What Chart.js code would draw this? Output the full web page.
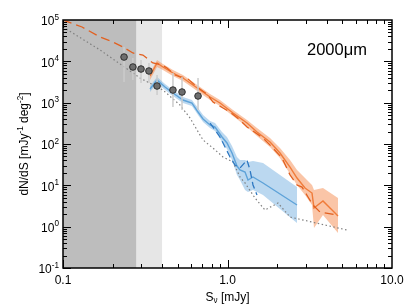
<!DOCTYPE html>
<html>
<head>
<meta charset="utf-8">
<script src="https://cdn.jsdelivr.net/npm/chart.js@4.4.0/dist/chart.umd.min.js"></script>
<style>
html, body { margin: 0; padding: 0; background: #fff; }
</style>
</head>
<body>
<canvas id="countsChart" width="411" height="308"></canvas>
<script>
// flux density [mJy] and dN/dS values
const orangeS = [0.338, 0.373, 0.405, 0.466, 0.536, 0.617, 0.783, 0.900, 1.080, 1.314, 1.511, 1.813, 2.085, 2.399, 2.646, 2.959, 3.264, 3.356, 3.806, 4.697];
const orangeN = [4420, 9110, 7290, 5220, 3950, 2680, 1370, 981, 562, 322, 195, 112, 60.5, 27.7, 15.0, 8.61, 6.51, 2.82, 4.17, 1.81];
const orangeHi = [5220, 10800, 8620, 6170, 4670, 3160, 1620, 1160, 664, 380, 244, 140, 79.9, 40.9, 23.5, 15.0, 10.2, 7.70, 8.61, 4.93];
const orangeLo = [3530, 7290, 6170, 4420, 3340, 2260, 1160, 830, 475, 258, 156, 84.5, 45.8, 18.8, 10.2, 5.83, 3.34, 0.926, 1.91, 0.701];

const blueS = [0.338, 0.373, 0.417, 0.466, 0.536, 0.608, 0.662, 0.710, 0.783, 0.840, 0.926, 0.993, 1.065, 1.142, 1.191, 1.278, 1.332, 1.429, 1.644, 2.646];
const blueN = [2140, 3530, 2390, 1710, 1160, 981, 594, 402, 288, 258, 148, 106, 60.5, 29.3, 23.5, 21.0, 13.4, 15.9, 11.4, 3.34];
const blueHi = [2530, 4180, 2830, 2020, 1370, 1160, 742, 503, 360, 322, 195, 148, 89.3, 48.4, 40.9, 40.9, 36.6, 38.7, 34.7, 9.10];
const blueLo = [1810, 2990, 2020, 1450, 981, 830, 503, 340, 244, 206, 112, 75.6, 40.9, 17.8, 13.4, 7.70, 6.88, 7.70, 5.83, 1.22];

const blueDashS = [0.783, 0.840, 0.900, 0.966, 1.036, 1.111, 1.191, 1.314, 1.370, 1.429, 1.511];
const blueDashN = [322, 218, 148, 84.5, 48.4, 31.0, 26.2, 40.9, 23.5, 10.2, 5.83];

const orangeDashS = [0.100, 0.1305, 0.168, 0.201, 0.232, 0.266, 0.306, 0.352, 0.400, 0.429, 0.480, 0.514, 0.567, 0.653, 0.751, 0.816, 0.939, 1.036, 1.191, 1.314, 1.644, 1.864, 2.145, 2.399, 2.646, 2.838, 3.086, 3.310, 3.650, 4.632];
const orangeDashN = [100000, 67700, 38800, 29400, 22200, 15900, 14200, 9110, 8150, 6900, 4670, 4180, 3950, 2390, 1620, 1037, 742, 594, 380, 258, 140, 84.5, 45.8, 17.8, 10.2, 9.10, 5.21, 3.34, 2.26, 1.91];

const dotS = [0.100, 0.168, 0.294, 0.405, 0.514, 0.592, 0.653, 0.710, 0.816, 0.939, 1.080, 1.191, 1.278, 1.470, 1.690, 2.028, 2.399, 5.326];
const dotN = [67700, 18800, 3950, 2020, 878, 425, 218, 125, 79.9, 48.4, 36.6, 15.9, 11.4, 4.93, 2.53, 3.73, 1.71, 0.829];

const obsS = [0.235, 0.266, 0.298, 0.333, 0.373, 0.466, 0.529, 0.662];
const obsN = [12700, 7290, 6520, 5840, 2530, 2020, 1810, 1450];
const obsHi = [22200, 12000, 10800, 9110, 4670, 5220, 4180, 3950];
const obsLo = [3160, 3530, 2990, 2990, 1530, 785, 664, 664];

const darkMask = [0.1, 0.28];
const lightMask = [0.28, 0.40];

const xTickVals = [0.1, 1, 10];
const xTickLabels = ['0.1', '1.0', '10.0'];
const yTickVals = [0.1, 1, 10, 100, 1000, 10000, 100000];
const yTickExps = ['-1', '0', '1', '2', '3', '4', '5'];
const bandLabel = '2000\u03bcm';

const pts = (xs, ys) => xs.map((x, i) => ({ x: x, y: ys[i] }));

const errPts = [];
obsS.forEach((s, i) => {
    errPts.push({ x: s, y: obsLo[i] }, { x: s, y: obsHi[i] }, { x: s, y: null });
});

const FONT = '"Liberation Sans", Arial, Helvetica, sans-serif';

// draws a string made of normal / superscript / subscript pieces, left to right
function drawRich(ctx, parts, x, y, size) {
    let cx = x;
    parts.forEach(p => {
        const s = p[1] ? size * 0.68 : size;
        ctx.font = s + 'px ' + FONT;
        const dy = p[1] === 1 ? -size * 0.38 : (p[1] === -1 ? size * 0.22 : 0);
        ctx.fillText(p[0], cx, y + dy);
        cx += ctx.measureText(p[0]).width;
    });
}
function richWidth(ctx, parts, size) {
    let w = 0;
    parts.forEach(p => {
        ctx.font = (p[1] ? size * 0.68 : size) + 'px ' + FONT;
        w += ctx.measureText(p[0]).width;
    });
    return w;
}

const axesPlugin = {
    id: 'axes',
    beforeDatasetsDraw(chart) {
        const { ctx, chartArea: a, scales: { x } } = chart;
        ctx.save();
        let x0 = x.getPixelForValue(darkMask[0]), x1 = x.getPixelForValue(darkMask[1]);
        ctx.fillStyle = '#bdbdbd';
        ctx.fillRect(x0, a.top, x1 - x0, a.bottom - a.top);
        x0 = x.getPixelForValue(lightMask[0]); x1 = x.getPixelForValue(lightMask[1]);
        ctx.fillStyle = '#e6e6e6';
        ctx.fillRect(x0, a.top, x1 - x0, a.bottom - a.top);
        ctx.restore();
    },
    afterDraw(chart) {
        const { ctx, chartArea: a, scales: { x, y } } = chart;
        ctx.save();
        ctx.strokeStyle = '#000';
        ctx.lineWidth = 1;
        ctx.beginPath();
        // x ticks, bottom and top
        for (let e = -1; e < 1; e++) {
            for (let m = 1; m <= 9; m++) {
                const px = Math.round(x.getPixelForValue(m * Math.pow(10, e))) + 0.5;
                const len = m === 1 ? 8 : 4;
                ctx.moveTo(px, a.bottom); ctx.lineTo(px, a.bottom - len);
                ctx.moveTo(px, a.top); ctx.lineTo(px, a.top + len);
            }
        }
        // y ticks, left and right
        for (let e = -1; e < 5; e++) {
            for (let m = 1; m <= 9; m++) {
                const py = Math.round(y.getPixelForValue(m * Math.pow(10, e))) + 0.5;
                const len = m === 1 ? 8 : 4;
                ctx.moveTo(a.left, py); ctx.lineTo(a.left + len, py);
                ctx.moveTo(a.right, py); ctx.lineTo(a.right - len, py);
            }
        }
        ctx.stroke();

        ctx.lineWidth = 1.5;
        ctx.strokeRect(a.left, a.top, a.right - a.left, a.bottom - a.top);

        ctx.fillStyle = '#000';
        // x tick labels
        ctx.font = '12px ' + FONT;
        ctx.textAlign = 'center';
        ctx.textBaseline = 'middle';
        xTickVals.forEach((v, i) => {
            ctx.fillText(xTickLabels[i], x.getPixelForValue(v), a.bottom + 13);
        });
        // y tick labels with exponent
        ctx.textAlign = 'left';
        yTickVals.forEach((v, i) => {
            const parts = [['10', 0], [yTickExps[i], 1]];
            const w = richWidth(ctx, parts, 12);
            drawRich(ctx, parts, a.left - 4 - w, y.getPixelForValue(v) + 2, 12);
        });
        // x title
        const xt = [['S', 0], ['\u03bd', -1], [' [mJy]', 0]];
        const xw = richWidth(ctx, xt, 12);
        drawRich(ctx, xt, (a.left + a.right) / 2 - xw / 2, a.bottom + 30, 12);
        // y title
        const yt = [['dN/dS [mJy', 0], ['-1', 1], [' deg', 0], ['-2', 1], [']', 0]];
        const yw = richWidth(ctx, yt, 12);
        ctx.save();
        ctx.translate(25, (a.top + a.bottom) / 2);
        ctx.rotate(-Math.PI / 2);
        drawRich(ctx, yt, -yw / 2, 0, 12);
        ctx.restore();
        // wavelength label
        ctx.font = '16.5px ' + FONT;
        ctx.textBaseline = 'alphabetic';
        ctx.fillText(bandLabel, 307, 55);
        ctx.restore();
    }
};

new Chart(document.getElementById('countsChart').getContext('2d'), {
    type: 'line',
    data: {
        datasets: [
            {
                data: pts(obsS, obsN),
                showLine: false,
                pointRadius: 3.3,
                pointBackgroundColor: '#6e6e6e',
                pointBorderColor: '#2e2e2e',
                pointBorderWidth: 1
            },
            {
                data: errPts,
                borderColor: '#cccccc',
                borderWidth: 1.5,
                spanGaps: false,
                pointRadius: 0
            },
            {
                data: pts(orangeDashS, orangeDashN),
                borderColor: '#e2601f',
                borderWidth: 1.3,
                borderDash: [9, 5],
                pointRadius: 0
            },
            {
                data: pts(blueDashS, blueDashN),
                borderColor: '#2d78c2',
                borderWidth: 1.3,
                borderDash: [7, 4],
                pointRadius: 0
            },
            {
                data: pts(orangeS, orangeN),
                borderColor: '#f07c3a',
                borderWidth: 1.4,
                pointRadius: 0
            },
            {
                data: pts(blueS, blueN),
                borderColor: '#5ea3d9',
                borderWidth: 1.4,
                pointRadius: 0
            },
            {
                data: pts(dotS, dotN),
                borderColor: '#808080',
                borderWidth: 1.2,
                borderDash: [1.5, 2.5],
                pointRadius: 0
            },
            {
                data: pts(orangeS, orangeHi),
                borderWidth: 0,
                pointRadius: 0,
                backgroundColor: 'rgba(245,140,80,0.5)',
                fill: '+1'
            },
            {
                data: pts(orangeS, orangeLo),
                borderWidth: 0,
                pointRadius: 0
            },
            {
                data: pts(blueS, blueHi),
                borderWidth: 0,
                pointRadius: 0,
                backgroundColor: 'rgba(120,178,225,0.5)',
                fill: '+1'
            },
            {
                data: pts(blueS, blueLo),
                borderWidth: 0,
                pointRadius: 0
            }
        ]
    },
    options: {
        responsive: false,
        animation: false,
        layout: { padding: { left: 63, top: 20, right: 19, bottom: 40 } },
        plugins: { legend: { display: false }, tooltip: { enabled: false } },
        elements: { line: { tension: 0 } },
        scales: {
            x: { type: 'logarithmic', min: 0.1, max: 10, display: false },
            y: { type: 'logarithmic', min: 0.1, max: 100000, display: false }
        }
    },
    plugins: [axesPlugin]
});
</script>
</body>
</html>
